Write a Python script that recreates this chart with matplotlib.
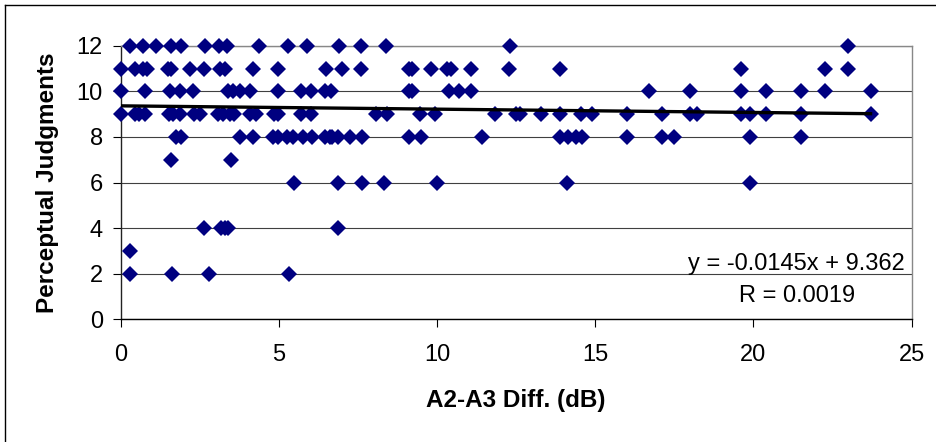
import matplotlib.pyplot as plt
import numpy as np
from matplotlib.lines import Line2D

plt.rcParams['font.family'] = ['Liberation Sans', 'DejaVu Sans']

#-- x positions of the diamonds, grouped by judgment value --
x_12 = [0.3, 0.7, 1.1, 1.6, 1.9, 2.65, 3.1, 3.35, 4.37, 5.3, 5.9, 6.9, 7.6, 8.4, 12.3, 23.0]
x_11 = [0.0, 0.45, 0.7, 0.82, 1.5, 1.6, 2.2, 2.62, 3.15, 3.3, 4.18, 4.98, 6.48, 7.0, 7.6,
        9.12, 9.2, 9.8, 10.3, 10.45, 11.07, 12.28, 13.9, 19.6, 22.25, 23.0]
x_10 = [0.0, 0.76, 1.55, 1.87, 2.3, 3.4, 3.55, 3.77, 4.1, 4.98, 5.7, 6.03, 6.46, 6.65,
        9.12, 9.2, 10.39, 10.7, 11.07, 16.71, 18.0, 19.6, 20.38, 21.49, 22.25, 23.7]
x_9 = [0.0, 0.45, 0.57, 0.76, 1.52, 1.66, 1.88, 2.33, 2.5, 3.09, 3.22, 3.45, 3.57, 4.1,
       4.27, 4.85, 4.97, 5.71, 6.0, 8.06, 8.41, 9.47, 9.93, 11.83, 12.5, 12.62, 13.28,
       13.89, 14.55, 14.89, 15.99, 17.1, 18.0, 18.2, 19.6, 19.89, 20.38, 21.49, 23.7]
x_8 = [1.75, 1.9, 3.77, 4.19, 4.8, 4.97, 5.25, 5.45, 5.77, 6.04, 6.46, 6.6, 6.67, 6.88,
       7.25, 7.62, 9.1, 9.5, 11.41, 13.89, 14.15, 14.38, 14.59, 15.99, 17.1, 17.5, 19.89, 21.49]
x_7 = [1.59, 3.49]
x_6 = [5.49, 6.88, 7.62, 8.33, 10.0, 14.1, 19.89]
x_4 = [2.64, 3.17, 3.3, 3.4, 6.88]
x_3 = [0.3]
x_2 = [0.3, 1.61, 2.79, 5.31]

rows = {12: x_12, 11: x_11, 10: x_10, 9: x_9, 8: x_8, 7: x_7, 6: x_6, 4: x_4, 3: x_3, 2: x_2}

#-- trendline from the label --
slope = -0.0145
intercept = 9.362
eq_text = 'y = -0.0145x + 9.362'
r_text = 'R = 0.0019'

xx = np.concatenate([np.array(v, dtype=float) for v in rows.values()])
yy = np.concatenate([np.full(len(v), k, dtype=float) for k, v in rows.items()])

fig = plt.figure(figsize=(9.37, 4.42), dpi=100)
ax = fig.add_axes([120.7 / 937, 1 - 319.3 / 442, 791 / 937, 273.6 / 442])

ax.plot(xx, yy, 'D', color='#000080', ms=8, mew=0, clip_on=False, zorder=3)

x_fit = np.array([xx.min(), xx.max()])
ax.plot(x_fit, slope * x_fit + intercept, color='black', lw=2.4, zorder=4)

ax.set_xlim(0, 25)
ax.set_ylim(0, 12)
ax.set_xticks(np.arange(0, 26, 5))
ax.set_yticks(np.arange(0, 13, 2))
ax.grid(axis='y', color='#404040', lw=0.8)
ax.set_axisbelow(True)

ax.spines['top'].set_color('#888888')
ax.spines['right'].set_color('#888888')
ax.spines['left'].set_color('#222222')
ax.spines['bottom'].set_color('black')
for s in ax.spines.values():
    s.set_linewidth(1.0)

ax.tick_params(axis='both', direction='out', length=5.8, width=0.8, labelsize=17)
ax.tick_params(axis='y', pad=7)
ax.tick_params(axis='x', pad=12)

fig.text(516 / 937, 1 - 400.6 / 442, 'A2-A3 Diff. (dB)', fontsize=17.5,
         fontweight='bold', ha='center', va='center')
fig.text(47.8 / 937, 1 - 182.8 / 442, 'Perceptual Judgments', fontsize=17.5,
         fontweight='bold', ha='center', va='center', rotation=90)

fig.text(796 / 937, 1 - 264.3 / 442, eq_text, fontsize=17, ha='center', va='center')
fig.text(797 / 937, 1 - 296 / 442, r_text, fontsize=17, ha='center', va='center')

#-- chart area border (partly cut off) --
fig.add_artist(Line2D([5.5 / 937, 1], [1 - 4.5 / 442, 1 - 4.5 / 442], color='black', lw=1))
fig.add_artist(Line2D([5.5 / 937, 5.5 / 937], [0, 1 - 4.5 / 442], color='black', lw=1))

fig.savefig('out.png', dpi=100)
